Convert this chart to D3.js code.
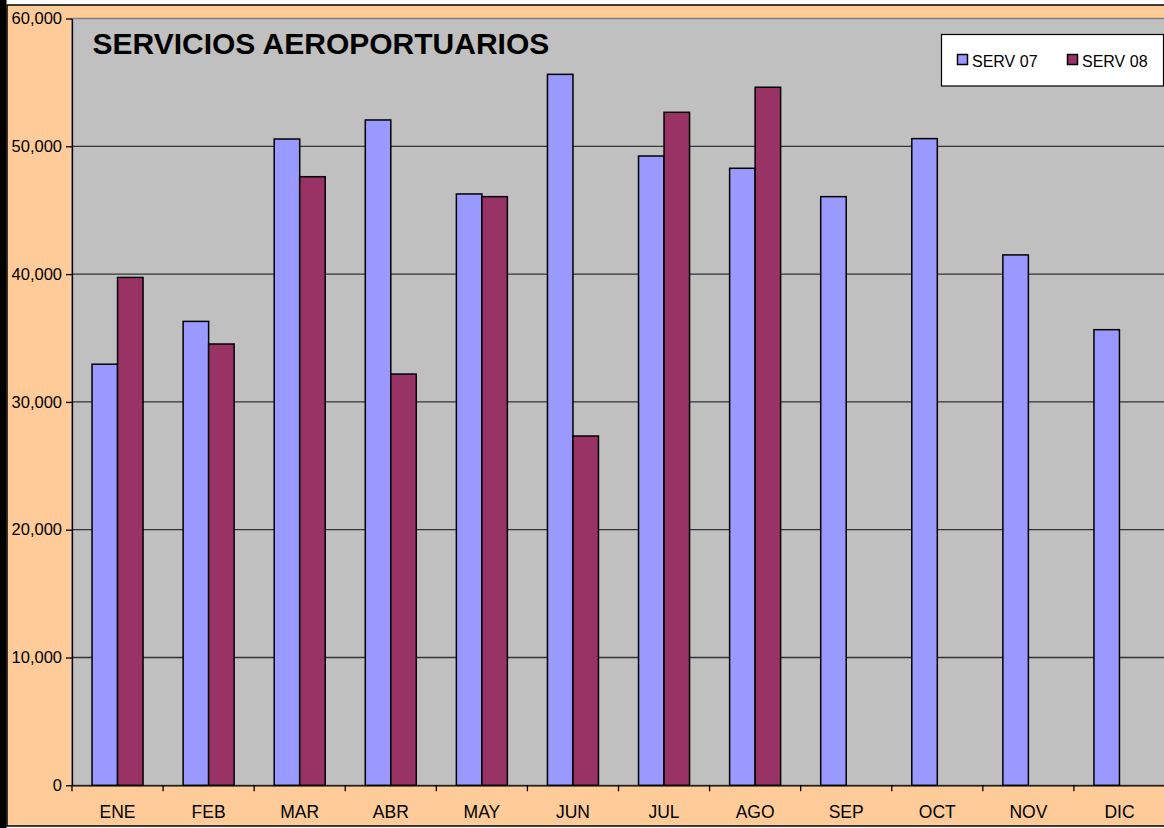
<!DOCTYPE html>
<html>
<head>
<meta charset="utf-8">
<script src="https://cdn.jsdelivr.net/npm/d3@7/dist/d3.min.js"></script>
<style>
  body { margin: 0; background: #fff; overflow: hidden; }
  svg { display: block; font-family: "Liberation Sans", Arial, sans-serif; }
</style>
</head>
<body>
<div id="chart"></div>
<script>
// data
var months = ['ENE', 'FEB', 'MAR', 'ABR', 'MAY', 'JUN', 'JUL', 'AGO', 'SEP', 'OCT', 'NOV', 'DIC'];
var serv07 = [32950, 36300, 50570, 52060, 46270, 55630, 49240, 48280, 46060, 50600, 41500, 35650];
var serv08 = [39740, 34530, 47620, 32180, 46060, 27330, 52660, 54620, null, null, null, null];
var series_names = ['SERV 07', 'SERV 08'];
var y_ticks = [0, 10000, 20000, 30000, 40000, 50000, 60000];

var width = 1164, height = 828;
var bg_color = '#ffcc99';
var plot_color = '#c0c0c0';
var bar_colors = ['#9999ff', '#993366'];

var plot = { left: 72, top: 18.5, right: 1165, bottom: 785.3 };

var svg = d3.select('#chart')
  .append('svg')
  .attr('width', width)
  .attr('height', height);

// chart area background + frame
svg.append('rect')
  .attr('x', 7).attr('y', 5)
  .attr('width', width).attr('height', 821)
  .style('fill', bg_color)
  .style('stroke', '#000')
  .style('stroke-width', 1.5);

svg.append('rect')
  .attr('x', 0).attr('y', 0)
  .attr('width', 6.5).attr('height', height)
  .style('fill', '#000');

// plot area
svg.append('rect')
  .attr('x', plot.left).attr('y', plot.top)
  .attr('width', plot.right - plot.left).attr('height', plot.bottom - plot.top)
  .style('fill', plot_color)
  .style('stroke', '#808080')
  .style('stroke-width', 1.5);

var x = d3.scaleBand()
  .domain(months)
  .range([plot.left, plot.right])
  .padding(0);

var bar_w = x.bandwidth() * 0.28;
var x_inner = d3.scaleBand()
  .domain([0, 1])
  .range([x.bandwidth() / 2 - bar_w, x.bandwidth() / 2 + bar_w]);

var y = d3.scaleLinear()
  .domain([0, 60000])
  .range([plot.bottom, plot.top]);

// gridlines
svg.append('g')
  .selectAll('line')
  .data(y_ticks.filter(function(d){ return d > 0 && d < 60000; }))
  .enter()
  .append('line')
  .attr('x1', plot.left).attr('x2', plot.right)
  .attr('y1', function(d){ return y(d); })
  .attr('y2', function(d){ return y(d); })
  .style('stroke', '#333')
  .style('stroke-width', 1.3);

// bars
var rows = months.map(function(m, i){
  return { month: m, vals: [serv07[i], serv08[i]] };
});

var groups = svg.append('g')
  .selectAll('g')
  .data(rows)
  .enter()
  .append('g')
  .attr('transform', function(d){ return 'translate(' + x(d.month) + ',0)'; });

groups.selectAll('rect')
  .data(function(d){
    return d.vals.map(function(v, k){ return { k: k, v: v }; })
      .filter(function(e){ return e.v != null; });
  })
  .enter()
  .append('rect')
  .attr('x', function(d){ return x_inner(d.k); })
  .attr('width', x_inner.bandwidth())
  .attr('y', function(d){ return y(d.v); })
  .attr('height', function(d){ return y(0) - y(d.v); })
  .style('fill', function(d){ return bar_colors[d.k]; })
  .style('stroke', '#000')
  .style('stroke-width', 1.5);

// y axis
var y_axis = svg.append('g')
  .attr('transform', 'translate(' + plot.left + ',0)')
  .call(d3.axisLeft(y).tickValues(y_ticks).tickSize(6).tickSizeOuter(0)
    .tickFormat(d3.format(',')));

y_axis.select('.domain').style('stroke', '#000').style('stroke-width', 1.3);
y_axis.selectAll('.tick line').style('stroke', '#000').style('stroke-width', 1.3);
y_axis.selectAll('.tick text')
  .attr('x', -10)
  .style('font-size', '16.5px')
  .style('font-family', '"Liberation Sans", Arial, sans-serif')
  .style('fill', '#000');

// x axis
var x_axis = svg.append('g')
  .attr('transform', 'translate(0,' + plot.bottom + ')')
  .call(d3.axisBottom(x).tickSize(0).tickSizeOuter(0));

x_axis.select('.domain').style('stroke', '#000').style('stroke-width', 1.3);
x_axis.selectAll('.tick text')
  .attr('y', 0)
  .attr('dy', 0)
  .attr('transform', 'translate(0, 32.4)')
  .style('font-size', '17.5px')
  .style('font-family', '"Liberation Sans", Arial, sans-serif')
  .style('fill', '#000');

// category boundary ticks
svg.append('g')
  .selectAll('line')
  .data(months)
  .enter()
  .append('line')
  .attr('x1', function(d){ return x(d); })
  .attr('x2', function(d){ return x(d); })
  .attr('y1', plot.bottom)
  .attr('y2', plot.bottom + 6)
  .style('stroke', '#000')
  .style('stroke-width', 1.3);

// title
svg.append('text')
  .text('SERVICIOS AEROPORTUARIOS')
  .attr('x', 92.5)
  .attr('y', 53.5)
  .style('font-size', '30px')
  .style('font-weight', 'bold')
  .style('fill', '#000');

// legend
var legend = svg.append('g')
  .attr('transform', 'translate(941.5, 34.5)');

legend.append('rect')
  .attr('width', 222).attr('height', 51.5)
  .style('fill', '#fff')
  .style('stroke', '#000')
  .style('stroke-width', 1.2);

var legend_item = legend.selectAll('g')
  .data(series_names)
  .enter()
  .append('g')
  .attr('transform', function(d, i){ return 'translate(' + (16 + i * 110) + ', 20)'; });

legend_item.append('rect')
  .attr('width', 10).attr('height', 10)
  .style('fill', function(d, i){ return bar_colors[i]; })
  .style('stroke', '#000')
  .style('stroke-width', 1.5);

legend_item.append('text')
  .text(function(d){ return d; })
  .attr('x', 14.5)
  .attr('y', 12.3)
  .style('font-size', '16px')
  .style('fill', '#000');
</script>
</body>
</html>
